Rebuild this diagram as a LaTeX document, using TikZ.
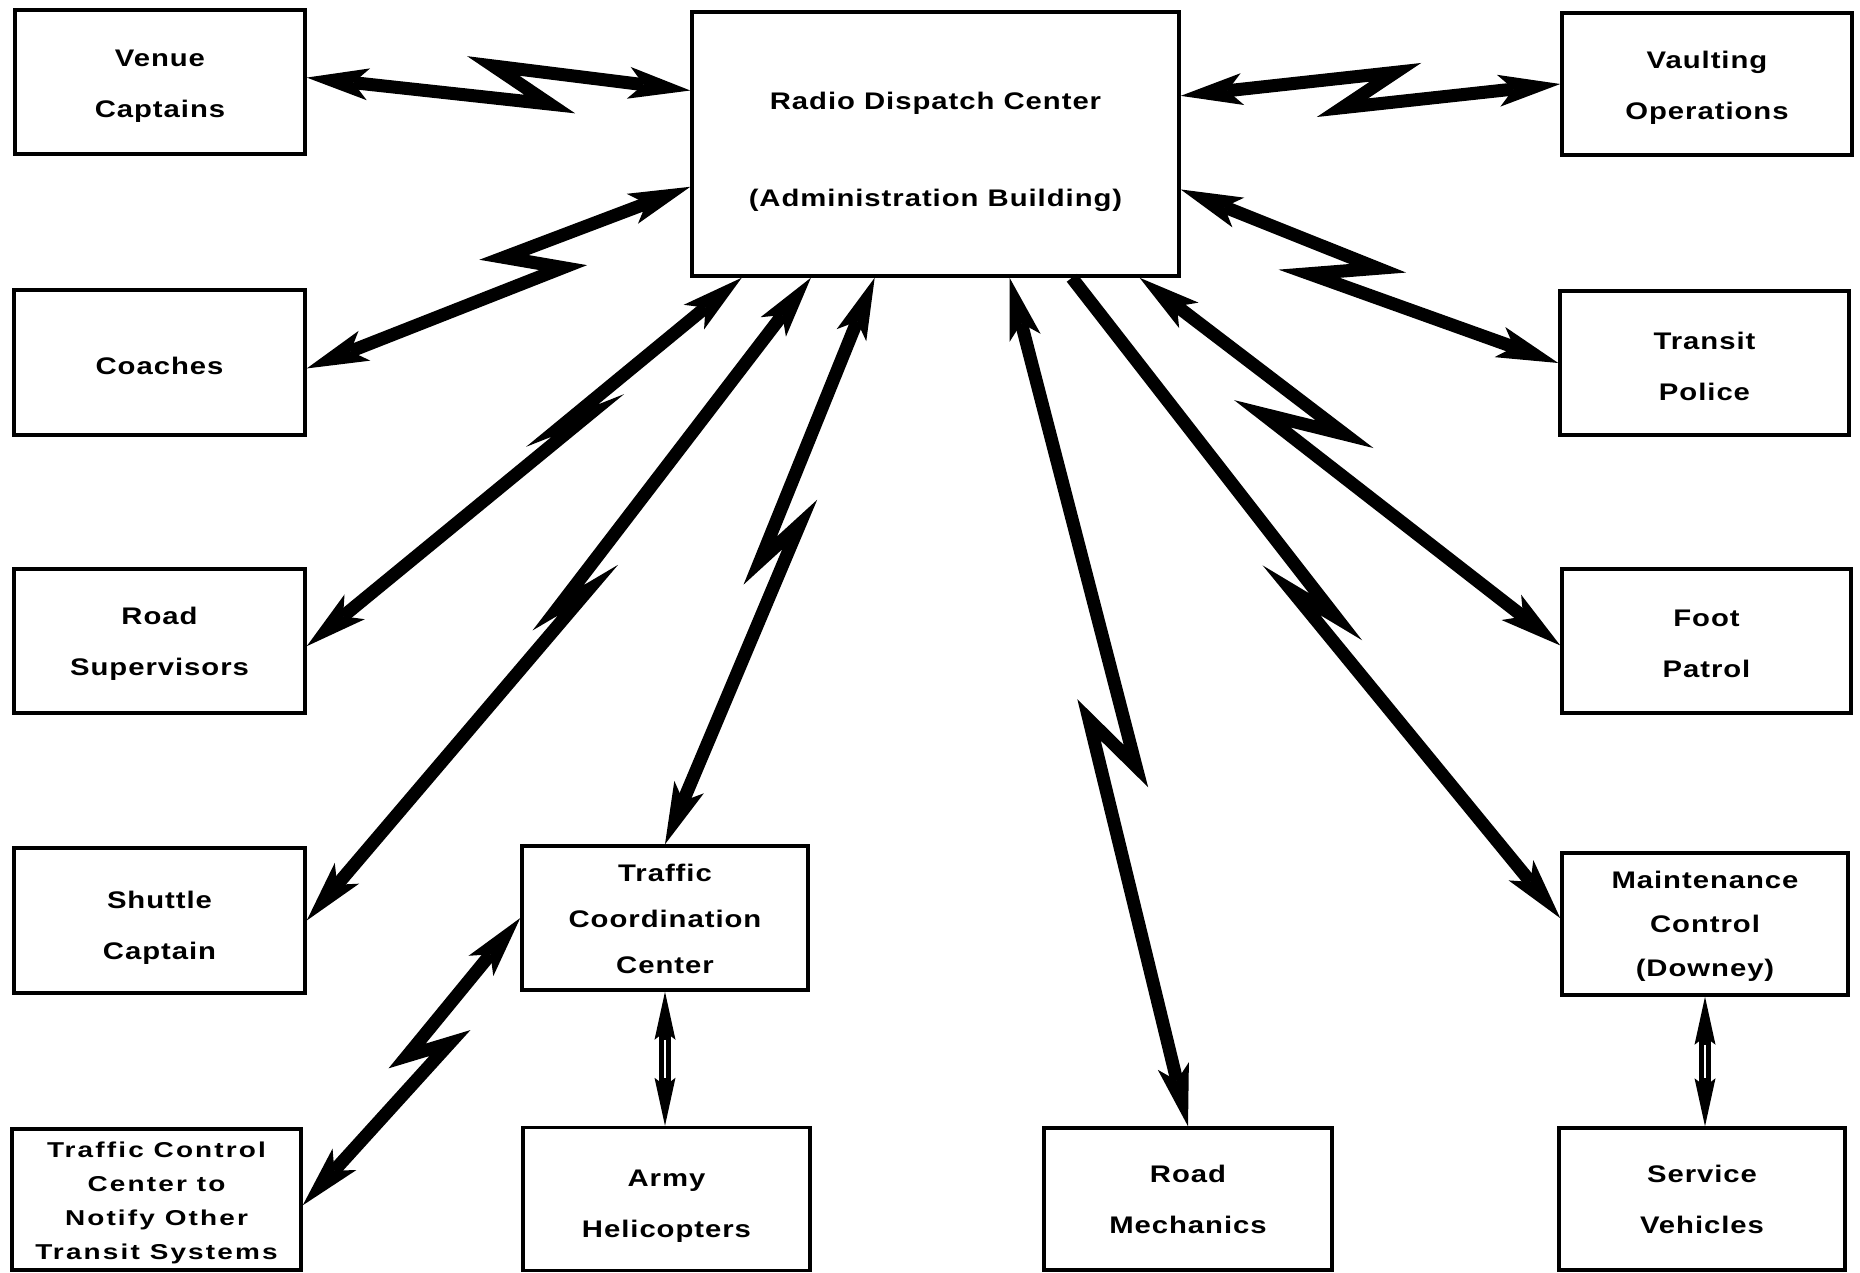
\documentclass[tikz,border=0pt]{standalone}
\usepackage{fontspec}
\newfontfamily\boxfont[FakeStretch=1.22,LetterSpace=4]{Liberation Sans}
\newfontfamily\boxfontwide[FakeStretch=1.3,LetterSpace=10]{Liberation Sans}
\usetikzlibrary{arrows.meta,calc}

% invisible strut that sets the height of a first text line
\newcommand\capgap[1]{\rule{0pt}{#1pt}}

\tikzset{
  hd/.tip={Stealth[length=62pt,width=32pt,inset=15pt,line width=0pt]},
  sm/.tip={Stealth[length=48pt,width=21pt,inset=8pt,line width=0pt]},
  unit/.style={draw, line width=3.5pt, inner sep=0pt, align=center,
    minimum width=290pt, minimum height=144pt,
    font=\boxfont\bfseries\fontsize{24}{51}\selectfont},
  three/.style={font=\boxfont\bfseries\fontsize{24}{46}\selectfont},
  bolt/.style={line width=13pt, line join=miter, miter limit=40},
  twoway/.style={arrows={hd-hd}},
  oneway/.style={arrows={-hd}},
  link/.style={line width=12pt, arrows={sm-sm}},
  linkcore/.style={white, line width=2pt, shorten <=48pt, shorten >=48pt},
}

\begin{document}
\begin{tikzpicture}[x=1pt,y=-1pt]
\useasboundingbox (0,0) rectangle (1860,1272);

% units
\node[unit] (venue) at (160,82) {\capgap{25}Venue\\Captains};
\node[unit, minimum width=487pt, minimum height=264pt] (radio) at (935.5,144)
  {\capgap{34}Radio Dispatch Center\\[46pt](Administration Building)};
\node[unit, minimum height=142pt] (vault) at (1707,84) {\capgap{24}Vaulting\\Operations};
\node[unit, minimum width=291pt, minimum height=145pt] (coaches) at (159.5,362.5) {\capgap{25}Coaches};
\node[unit, minimum width=289pt] (transit) at (1704.5,363) {\capgap{25}Transit\\Police};
\node[unit, minimum width=291pt] (roadsup) at (159.5,641) {\capgap{23}Road\\Supervisors};
\node[unit, minimum width=289pt] (foot) at (1706.5,641) {\capgap{23}Foot\\Patrol};
\node[unit, minimum width=291pt, minimum height=145pt] (shuttle) at (159.5,920.5) {\capgap{32}Shuttle\\Captain};
\node[unit, three, minimum width=286pt] (tcc) at (665,918) {\capgap{20}Traffic\\Coordination\\Center};
\node[unit, three, minimum width=286pt, minimum height=142pt,
  font=\boxfont\bfseries\fontsize{24}{44}\selectfont] (maint) at (1705,924)
  {\capgap{22}Maintenance\\Control\\(Downey)};
\node[unit, minimum width=289pt, minimum height=141pt,
  font=\boxfontwide\bfseries\fontsize{21.5}{34}\selectfont] (tctl) at (156.5,1199.5)
  {\capgap{22}Traffic Control\\Center to\\Notify Other\\Transit Systems};
\node[unit, minimum width=287pt, minimum height=143pt] (army) at (666.5,1199) {\capgap{30}Army\\Helicopters};
\node[unit, minimum width=288pt, minimum height=142pt] (roadmech) at (1188,1199) {Road\\Mechanics};
\node[unit, minimum width=286pt, minimum height=142pt] (service) at (1702,1199) {Service\\Vehicles};

% radio links (zigzag bolts)
\draw[bolt, twoway] ($(venue.north east)!0.47!(venue.south east)$)
  -- ($(563,113)!0.16!(480,57)$) -- ($(480,57)!0.16!(563,113)$)
  -- ($(radio.north west)!0.30!(radio.south west)$);
\draw[bolt, twoway] ($(coaches.north east)!0.54!(coaches.south east)$)
  -- ($(577,270)!0.16!(490,255)$) -- ($(490,255)!0.16!(577,270)$)
  -- ($(radio.north west)!0.66!(radio.south west)$);
\draw[bolt, twoway] ($(radio.north east)!0.32!(radio.south east)$)
  -- ($(1408,64)!0.16!(1330,116)$) -- ($(1330,116)!0.16!(1408,64)$)
  -- (vault.west);
\draw[bolt, twoway] ($(radio.north east)!0.67!(radio.south east)$)
  -- ($(1394,267)!0.16!(1293,275)$) -- ($(1293,275)!0.16!(1394,267)$)
  -- (transit.west);
\draw[bolt, twoway] ($(radio.south west)!0.105!(radio.south east)$)
  -- ($(556,428)!0.16!(594,413)$) -- ($(594,413)!0.16!(556,428)$)
  -- ($(roadsup.north east)!0.535!(roadsup.south east)$);
\draw[bolt, twoway] ($(radio.south west)!0.246!(radio.south east)$)
  -- ($(551,612)!0.16!(595,586)$) -- ($(595,586)!0.16!(551,612)$)
  -- (shuttle.east);
\draw[bolt, twoway] ($(radio.south west)!0.376!(radio.south east)$)
  -- ($(751,569)!0.16!(809,516)$) -- ($(809,516)!0.16!(751,569)$)
  -- (tcc.north);
\draw[bolt, twoway] ($(radio.south west)!0.651!(radio.south east)$)
  -- ($(1147,777)!0.16!(1078,709)$) -- ($(1078,709)!0.16!(1147,777)$)
  -- (roadmech.north);
\draw[bolt, oneway] ($(radio.south west)!0.778!(radio.south east)$)
  -- ($(1346,623)!0.16!(1281,584)$) -- ($(1281,584)!0.16!(1346,623)$)
  -- ($(maint.north west)!0.46!(maint.south west)$);
\draw[bolt, twoway] ($(radio.south west)!0.916!(radio.south east)$)
  -- ($(1364,439)!0.16!(1243,409)$) -- ($(1243,409)!0.16!(1364,439)$)
  -- ($(foot.north west)!0.53!(foot.south west)$);
\draw[bolt, twoway] (tcc.west)
  -- ($(397,1059)!0.16!(460,1040)$) -- ($(460,1040)!0.16!(397,1059)$)
  -- ($(tctl.north east)!0.54!(tctl.south east)$);

% direct links
\draw[link] (tcc.south) -- (tcc.south |- army.north);
\draw[linkcore] (tcc.south) -- (tcc.south |- army.north);
\draw[link] (maint.south) -- (maint.south |- service.north);
\draw[linkcore] (maint.south) -- (maint.south |- service.north);
\end{tikzpicture}
\end{document}
